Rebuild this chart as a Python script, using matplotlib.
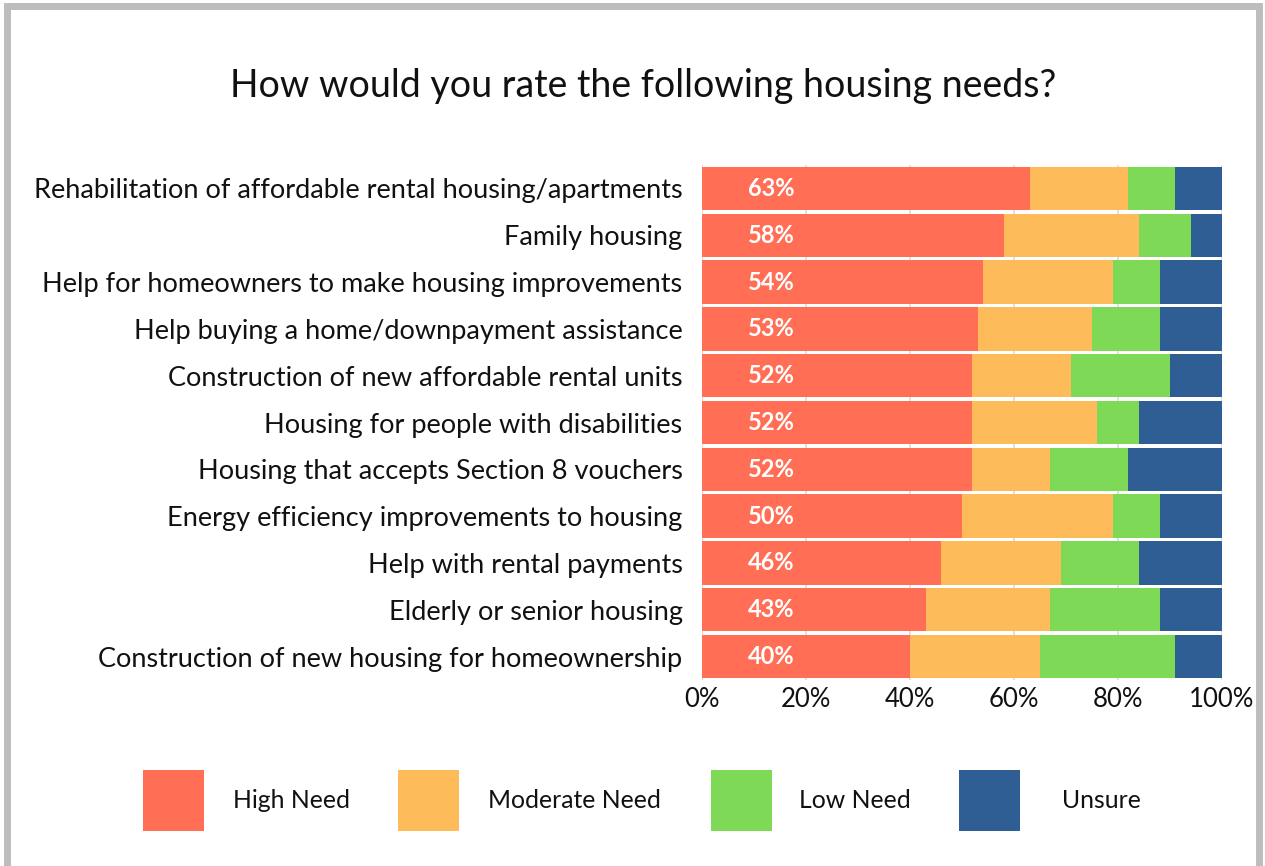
import matplotlib
matplotlib.use("Agg")
import matplotlib.pyplot as plt
from matplotlib.patches import Rectangle
import numpy as np

plt.rcParams['font.family'] = ['Lato', 'DejaVu Sans']

categories = [
    "Rehabilitation of affordable rental housing/apartments",
    "Family housing",
    "Help for homeowners to make housing improvements",
    "Help buying a home/downpayment assistance",
    "Construction of new affordable rental units",
    "Housing for people with disabilities",
    "Housing that accepts Section 8 vouchers",
    "Energy efficiency improvements to housing",
    "Help with rental payments",
    "Elderly or senior housing",
    "Construction of new housing for homeownership",
]
high_need = [63, 58, 54, 53, 52, 52, 52, 50, 46, 43, 40]
moderate_need = [19, 26, 25, 22, 19, 24, 15, 29, 23, 24, 25]
low_need = [9, 10, 9, 13, 19, 8, 15, 9, 15, 21, 26]
unsure = [9, 6, 12, 12, 10, 16, 18, 12, 16, 12, 9]

series_names = ["High Need", "Moderate Need", "Low Need", "Unsure"]
series_colors = ["#FF6E55", "#FEBB5A", "#7ED957", "#2E5E94"]
x_ticks = [0, 20, 40, 60, 80, 100]

W, H = 1265, 866
fig = plt.figure(figsize=(W / 100, H / 100), dpi=100)

# outer frame
fig.add_artist(Rectangle((6.5 / W, -0.05), (W - 13) / W, 1.05 - 6.5 / H,
                         transform=fig.transFigure, fill=False,
                         edgecolor="#BDBDBD", linewidth=5.0))

ax = fig.add_axes([702 / W, 1 - 680 / H, 520 / W, (680 - 165) / H])

y = np.arange(len(categories))
left = np.zeros(len(categories))
for vals, name, col in zip([high_need, moderate_need, low_need, unsure],
                           series_names, series_colors):
    ax.barh(y, vals, left=left, height=0.925, color=col, label=name, zorder=2)
    left = left + np.array(vals)

for yi, v in zip(y, high_need):
    ax.text(13.4, yi, f"{v}%", color="white", fontsize=17, fontweight="bold",
            ha="center", va="center", zorder=3)

ax.set_xlim(0, 100)
ax.set_ylim(len(categories) - 0.5, -0.5)
ax.set_yticks(y)
ax.set_yticklabels(categories, fontsize=19.5, color="#111111")
ax.set_xticks(x_ticks)
ax.set_xticklabels([f"{t}%" for t in x_ticks], fontsize=18.5, color="#111111")
ax.tick_params(axis="both", length=0)
ax.tick_params(axis="y", pad=14)
ax.tick_params(axis="x", pad=5)
for s in ax.spines.values():
    s.set_visible(False)
ax.grid(axis="x", color="#D9D9D9", linewidth=1.2, zorder=0)
ax.set_axisbelow(True)

fig.text(643 / W, 1 - 86 / H, "How would you rate the following housing needs?",
         ha="center", va="center", fontsize=27, color="#111111")

# legend
patch_x = [143, 398, 711, 959]
label_x = [233, 488, 799, 1062]
for px, lx, name, col in zip(patch_x, label_x, series_names, series_colors):
    fig.add_artist(Rectangle((px / W, 1 - 831 / H), 61 / W, 61 / H,
                             transform=fig.transFigure, facecolor=col,
                             edgecolor="none"))
    fig.text(lx / W, 1 - 801 / H, name, ha="left", va="center",
             fontsize=17.8, color="#111111")

fig.savefig("out.png", dpi=100)
